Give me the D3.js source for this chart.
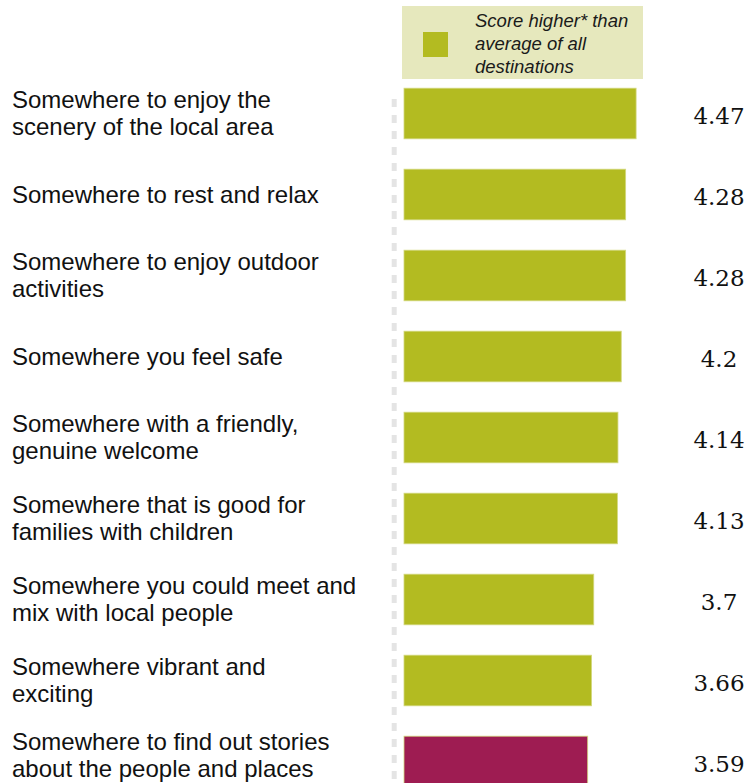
<!DOCTYPE html>
<html>
<head>
<meta charset="utf-8">
<script src="https://cdn.jsdelivr.net/npm/d3@7"></script>
<style>
  html, body { margin: 0; padding: 0; background: #ffffff; }
  svg { display: block; }
</style>
</head>
<body>
<svg id="chart" width="753" height="783"></svg>
<script>
// Destination motivations and their mean scores
const categories = [
  ["Somewhere to enjoy the", "scenery of the local area"],
  ["Somewhere to rest and relax"],
  ["Somewhere to enjoy outdoor", "activities"],
  ["Somewhere you feel safe"],
  ["Somewhere with a friendly,", "genuine welcome"],
  ["Somewhere that is good for", "families with children"],
  ["Somewhere you could meet and", "mix with local people"],
  ["Somewhere vibrant and", "exciting"],
  ["Somewhere to find out stories", "about the people and places"]
];
const scores = [4.47, 4.28, 4.28, 4.2, 4.14, 4.13, 3.7, 3.66, 3.59];
// true where the destination scores higher than the average of all destinations
const aboveAverage = [true, true, true, true, true, true, true, true, false];
const scoreLabels = ["4.47", "4.28", "4.28", "4.2", "4.14", "4.13", "3.7", "3.66", "3.59"];
const legendLines = ["Score higher* than", "average of all", "destinations"];

const colorHigher = "#b3bb21";
const colorOther = "#9e1c52";

const W = 753, H = 783;
const svg = d3.select("#chart");
const idx = d3.range(categories.length);

const x = d3.scaleLinear().domain([0.25, 4.5]).range([404, 637.75]);
const y = d3.scaleBand().domain(idx).range([73, 802])
  .paddingInner(0.375).paddingOuter(0.1875);

// dashed reference line left of the bars
svg.append("line")
  .attr("x1", 394.2).attr("x2", 394.2)
  .attr("y1", 99).attr("y2", H)
  .attr("stroke", "#e4e4e4")
  .attr("stroke-width", 5)
  .attr("stroke-dasharray", "8 8");

// legend
const legend = svg.append("g");
legend.append("rect")
  .attr("x", 402).attr("y", 6).attr("width", 241).attr("height", 73)
  .attr("fill", "#e6e8bd");
legend.append("rect")
  .attr("x", 423).attr("y", 32).attr("width", 25).attr("height", 25)
  .attr("fill", colorHigher);
legend.append("text")
  .attr("font-family", "'Liberation Sans', Arial, sans-serif")
  .attr("font-style", "italic")
  .attr("font-size", 18.5)
  .attr("fill", "#1a1a1a")
  .selectAll("tspan").data(legendLines).join("tspan")
  .attr("x", 475)
  .attr("y", (d, i) => 27.3 + i * 22.7)
  .text(d => d);

// bars, measured from the start of the score axis
const x0 = x.domain()[0];
svg.append("g").selectAll("rect").data(idx).join("rect")
  .attr("x", x(x0))
  .attr("y", i => y(i))
  .attr("width", i => x(scores[i]) - x(x0))
  .attr("height", y.bandwidth())
  .attr("fill", i => aboveAverage[i] ? colorHigher : colorOther)
  .attr("stroke", "#d3d87e")
  .attr("stroke-width", 0.8);

// category labels; wrapped labels sit slightly above the bar centre,
// and are lifted if their last line would run past the bottom edge
const fontSize = 24, lineH = 27, descent = 6;
const labelGroup = svg.append("g")
  .attr("font-family", "'Liberation Sans', Arial, sans-serif")
  .attr("font-size", fontSize)
  .attr("fill", "#111111");
labelGroup.selectAll("text").data(idx).join("text")
  .each(function (i) {
    const lines = categories[i];
    const cy = y(i) + y.bandwidth() / 2;
    let first = lines.length === 1 ? cy + 8.5 : cy - 6;
    const last = first + (lines.length - 1) * lineH;
    if (last + descent > H) first -= last + descent - H;
    d3.select(this).selectAll("tspan").data(lines).join("tspan")
      .attr("x", 12)
      .attr("y", (d, k) => first + k * lineH)
      .text(d => d);
  });

// score values
svg.append("g")
  .attr("font-family", "Georgia, 'DejaVu Serif', serif")
  .attr("font-size", 23)
  .attr("fill", "#111111")
  .attr("text-anchor", "middle")
  .style("font-variant-numeric", "oldstyle-nums")
  .selectAll("text").data(idx).join("text")
  .attr("x", 719)
  .attr("y", i => y(i) + y.bandwidth() / 2 + 10.5)
  .text(i => scoreLabels[i]);
</script>
</body>
</html>
